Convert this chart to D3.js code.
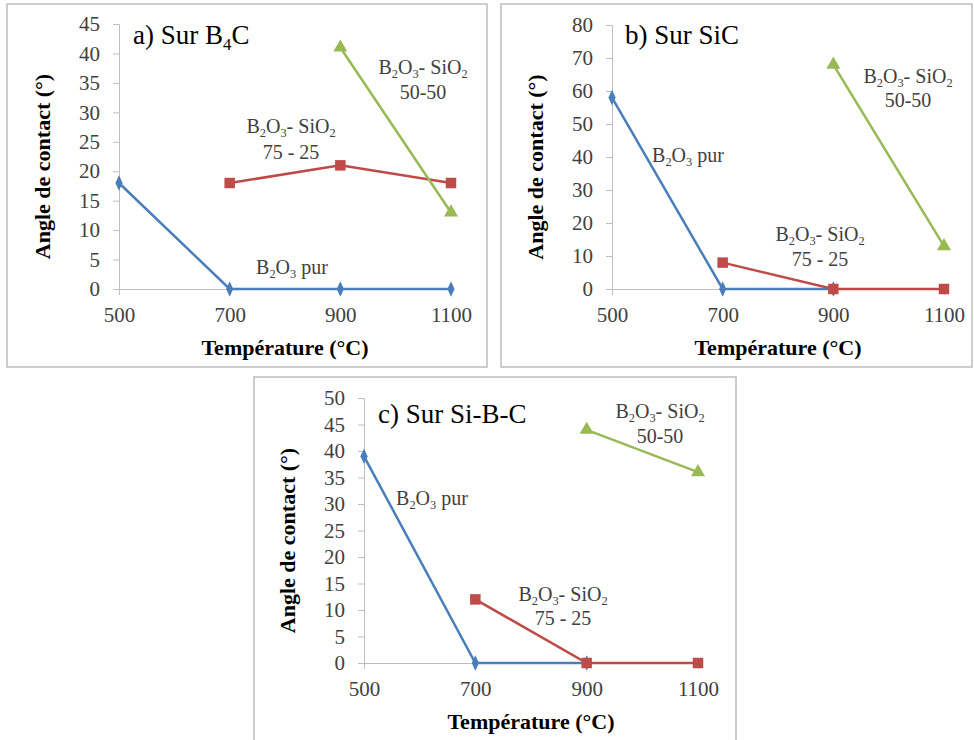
<!DOCTYPE html>
<html><head><meta charset="utf-8">
<script src="https://cdn.jsdelivr.net/npm/d3@7"></script>
<style>body{margin:0;background:#fff}svg{display:block}svg text{font-family:"Liberation Serif","Times New Roman",Times,serif !important}</style>
</head><body>
<script>
const temperatures = [500, 700, 900, 1100];
const xTickLabels = ["500", "700", "900", "1100"];
// Panel a) Sur B4C
const aPur   = [[500,18],[700,0],[900,0],[1100,0]];
const a7525  = [[700,18],[900,21],[1100,18]];
const a5050  = [[900,41],[1100,13]];
const aTicks = [0,5,10,15,20,25,30,35,40,45];
// Panel b) Sur SiC
const bPur   = [[500,58],[700,0],[900,0]];
const b7525  = [[700,8],[900,0],[1100,0]];
const b5050  = [[900,68],[1100,13]];
const bTicks = [0,10,20,30,40,50,60,70,80];
// Panel c) Sur Si-B-C
const cPur   = [[500,39],[700,0],[900,0]];
const c7525  = [[700,12],[900,0],[1100,0]];
const c5050  = [[900,44],[1100,36]];
const cTicks = [0,5,10,15,20,25,30,35,40,45,50];

const COL = {pur:"#4a7ebb", s75:"#be4b48", s50:"#98b954"};
const TXT = "#404040";

const svg = d3.select("body").append("svg").attr("width",974).attr("height",740);

function sub(sel, parts, size){
  let prevSub=false;
  parts.forEach(([t,s])=>{
    const ts = sel.append("tspan").text(t);
    if(s){ ts.attr("font-size", size*0.62); }
    if(s && !prevSub) ts.attr("dy", size*0.22);
    else if(!s && prevSub) ts.attr("dy", -size*0.22);
    prevSub = s;
  });
}

function panel(cfg){
  const g = svg.append("g");
  g.append("rect").attr("x",cfg.frame[0]).attr("y",cfg.frame[1])
    .attr("width",cfg.frame[2]).attr("height",cfg.frame[3])
    .attr("fill","#fff").attr("stroke","#bdbdbd").attr("stroke-width",1.5);
  const x = d3.scaleLinear().domain([500,1100]).range([cfg.x0, cfg.x1]);
  const y = d3.scaleLinear().domain([0, cfg.ymax]).range([cfg.y0, cfg.y1]);
  const ya = g.append("g").attr("transform",`translate(${cfg.x0},0)`)
    .call(d3.axisLeft(y).tickValues(cfg.ticks).tickSize(6).tickPadding(13).tickFormat(d3.format("d")));
  ya.attr("font-family",null);
  ya.select(".domain").attr("stroke","#bfbfbf");
  ya.selectAll(".tick line").attr("stroke","#bfbfbf");
  ya.selectAll("text").attr("font-size",21).attr("fill",TXT);
  const xa = g.append("g").attr("transform",`translate(0,${cfg.y0})`)
    .call(d3.axisBottom(x).tickValues(temperatures).tickSize(6).tickPadding(12)
      .tickFormat((d,i)=>xTickLabels[i]));
  xa.attr("font-family",null);
  xa.select(".domain").attr("stroke","#bfbfbf");
  xa.selectAll(".tick line").attr("stroke","#bfbfbf");
  xa.selectAll("text").attr("font-size",21).attr("fill",TXT);
  g.append("text").attr("x",(cfg.x0+cfg.x1)/2 ).attr("y",cfg.y0+66)
    .attr("text-anchor","middle").attr("font-weight","bold")
    .attr("font-size",22).attr("fill","#000").text("Température (°C)");
  g.append("text").attr("transform",`translate(${cfg.ylabX},${(cfg.y0+cfg.y1)/2+10}) rotate(-90)`)
    .attr("text-anchor","middle").attr("font-weight","bold")
    .attr("font-size",22).attr("fill","#000").text("Angle de contact (°)");
  const line = d3.line().x(d=>x(d[0])).y(d=>y(d[1]));
  const series = [
    {data:cfg.pur, c:COL.pur, m:d3.symbolDiamond, s:70, sx:0.8},
    {data:cfg.s75, c:COL.s75, m:d3.symbolSquare, s:110, sx:1},
    {data:cfg.s50, c:COL.s50, m:d3.symbolTriangle, s:85, sx:1}
  ];
  series.forEach(se=>{
    g.append("path").datum(se.data).attr("d",line).attr("fill","none")
      .attr("stroke",se.c).attr("stroke-width",2.5);
  });
  series.forEach(se=>{
    g.selectAll(null).data(se.data).enter().append("path")
      .attr("d",d3.symbol().type(se.m).size(se.s))
      .attr("transform",d=>`translate(${x(d[0])},${y(d[1])}) scale(${se.sx},1)`)
      .attr("fill",se.c);
  });
  const t = g.append("text").attr("x",cfg.title[0]).attr("y",cfg.title[1])
    .attr("font-size",27).attr("fill","#000");
  sub(t, cfg.titleParts, 27);
  const fs = 20;
  cfg.labels.forEach(L=>{
    const tt = g.append("text").attr("x",L.x).attr("y",L.y).attr("text-anchor",L.a||"middle")
      .attr("font-size",fs).attr("fill",TXT);
    sub(tt, L.parts, fs);
  });
}

const PUR = [["B",0],["2",1],["O",0],["3",1],[" pur",0]];
const MIX = [["B",0],["2",1],["O",0],["3",1],["- SiO",0],["2",1]];

panel({frame:[7,4,480,363], x0:119, x1:451, y0:289, y1:24, ymax:45, ticks:aTicks,
  ylabX:50, pur:aPur, s75:a7525, s50:a5050, title:[133,44],
  titleParts:[["a) Sur B",0],["4",1],["C",0]],
  labels:[
    {x:292,y:274,parts:PUR},
    {x:291,y:133,parts:MIX},{x:291,y:159,parts:[["75 - 25",0]]},
    {x:423,y:74,parts:MIX},{x:423,y:99,parts:[["50-50",0]]}
  ]});
panel({frame:[501,4,471,363], x0:612, x1:944, y0:289, y1:25, ymax:80, ticks:bTicks,
  ylabX:543, pur:bPur, s75:b7525, s50:b5050, title:[625,44],
  titleParts:[["b) Sur SiC",0]],
  labels:[
    {x:688,y:162,parts:PUR},
    {x:820,y:241,parts:MIX},{x:820,y:266,parts:[["75 - 25",0]]},
    {x:908,y:83,parts:MIX},{x:908,y:107,parts:[["50-50",0]]}
  ]});
panel({frame:[254,377,482,370], x0:364, x1:698, y0:663, y1:398, ymax:50, ticks:cTicks,
  ylabX:295, pur:cPur, s75:c7525, s50:c5050, title:[378,423],
  titleParts:[["c) Sur Si-B-C",0]],
  labels:[
    {x:432,y:505,parts:PUR},
    {x:563,y:601,parts:MIX},{x:563,y:625,parts:[["75 - 25",0]]},
    {x:660,y:418,parts:MIX},{x:660,y:443,parts:[["50-50",0]]}
  ]});
</script>
</body></html>
